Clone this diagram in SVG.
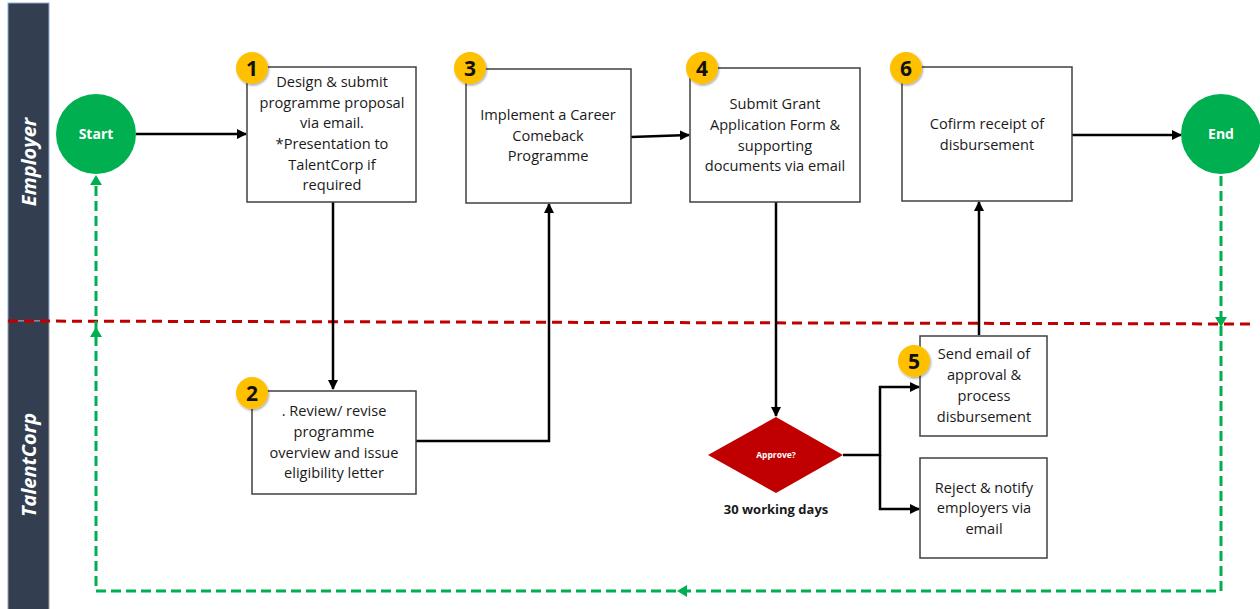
<svg xmlns="http://www.w3.org/2000/svg" width="1260" height="609" viewBox="0 0 1260 609">
<style>
.lane{fill:#333f50}
.lanelbl{fill:#fff;font-family:"Open Sans",sans-serif;font-weight:bold;font-style:italic;font-size:20px}
.box{fill:#fff;stroke:#404040;stroke-width:1.5}
.t{font-family:"Open Sans","Liberation Sans",sans-serif;font-size:14.6px;fill:#1a1a1a;text-anchor:middle}
.badge{fill:#ffc000}
.bn{font-family:"Open Sans",sans-serif;font-weight:bold;font-size:21px;fill:#111;text-anchor:middle}
.term{fill:#00b050}
.tt{font-family:"Open Sans",sans-serif;font-weight:bold;font-size:14px;fill:#fff;text-anchor:middle}
.c{fill:none;stroke:#000;stroke-width:2.5}
.g{fill:none;stroke:#00b050;stroke-width:3;stroke-dasharray:10 5}
.gh{fill:#00b050}
</style>
<defs>
<marker id="ah" viewBox="0 0 10 10" refX="9" refY="5" markerWidth="4" markerHeight="4" orient="auto" markerUnits="strokeWidth">
<path d="M0,0 L10,5 L0,10 z" fill="#000"/>
</marker>
<filter id="sh" x="-30%" y="-30%" width="160%" height="160%">
<feDropShadow dx="1" dy="1.5" stdDeviation="1.2" flood-color="#000" flood-opacity="0.35"/>
</filter>
</defs>
<rect width="1260" height="609" fill="#fff"/>

<g id="lane-employer">
<rect class="lane" x="8" y="3" width="41" height="318" stroke="#8eaadb" stroke-width="1"/>
<text class="lanelbl" transform="translate(36,162) rotate(-90)" text-anchor="middle">Employer</text>
</g>
<g id="lane-talentcorp">
<rect class="lane" x="8" y="321" width="41" height="290" stroke="#a0a0a0" stroke-width="1"/>
<text class="lanelbl" transform="translate(36,465) rotate(-90)" text-anchor="middle">TalentCorp</text>
</g>
<g id="lane-divider">
<line x1="8" y1="321" x2="1250" y2="324" stroke="#c00000" stroke-width="3" stroke-dasharray="10 6"/>
</g>

<g id="connectors">
<line class="c" x1="136" y1="134" x2="246" y2="134" marker-end="url(#ah)"/>
<line class="c" x1="333" y1="202" x2="333" y2="389" marker-end="url(#ah)"/>
<polyline class="c" points="416,441 549,441 549,204" marker-end="url(#ah)"/>
<line class="c" x1="631" y1="137" x2="689" y2="135" marker-end="url(#ah)"/>
<line class="c" x1="776" y1="202" x2="776" y2="416" marker-end="url(#ah)"/>
<polyline class="c" points="843,455 880,455 880,387 919,387" marker-end="url(#ah)"/>
<polyline class="c" points="880,455 880,509 919,509" marker-end="url(#ah)"/>
<line class="c" x1="979" y1="335" x2="979" y2="202" marker-end="url(#ah)"/>
<line class="c" x1="1072" y1="135" x2="1181" y2="135" marker-end="url(#ah)"/>
<polyline class="g" points="1221,176 1221,591 96,591 96,178"/>
<polygon class="gh" points="1215,317 1227,317 1221,327"/>
<polygon class="gh" points="687,585 687,597 677,591"/>
<polygon class="gh" points="90,337 102,337 96,327"/>
<polygon class="gh" points="90,185 102,185 96,175"/>
</g>

<g id="start">
<circle class="term" cx="96" cy="134" r="40"/>
<text class="tt" x="96" y="139">Start</text>
</g>
<g id="end">
<circle class="term" cx="1221" cy="134" r="40"/>
<text class="tt" x="1221" y="139">End</text>
</g>

<g id="step1">
<rect class="box" x="247" y="67" width="169" height="135"/>
<text class="t"><tspan x="332" y="87">Design &amp; submit</tspan><tspan x="332" y="108">programme proposal</tspan><tspan x="332" y="128">via email.</tspan><tspan x="332" y="149">*Presentation to</tspan><tspan x="332" y="170">TalentCorp if</tspan><tspan x="332" y="190">required</tspan></text>
<circle class="badge" cx="252" cy="68" r="16" filter="url(#sh)"/>
<text class="bn" x="252" y="76">1</text>
</g>

<g id="step2">
<rect class="box" x="252" y="391" width="164" height="103"/>
<text class="t"><tspan x="334" y="416">. Review/ revise</tspan><tspan x="334" y="437">programme</tspan><tspan x="334" y="458">overview and issue</tspan><tspan x="334" y="478">eligibility letter</tspan></text>
<circle class="badge" cx="252" cy="393" r="16" filter="url(#sh)"/>
<text class="bn" x="252" y="401">2</text>
</g>

<g id="step3">
<rect class="box" x="466" y="69" width="165" height="134"/>
<text class="t"><tspan x="548" y="120">Implement a Career</tspan><tspan x="548" y="141">Comeback</tspan><tspan x="548" y="161">Programme</tspan></text>
<circle class="badge" cx="470" cy="68" r="16" filter="url(#sh)"/>
<text class="bn" x="470" y="76">3</text>
</g>

<g id="step4">
<rect class="box" x="690" y="68" width="170" height="134"/>
<text class="t"><tspan x="775" y="109">Submit Grant</tspan><tspan x="775" y="130">Application Form &amp;</tspan><tspan x="775" y="151">supporting</tspan><tspan x="775" y="171">documents via email</tspan></text>
<circle class="badge" cx="702" cy="68" r="16" filter="url(#sh)"/>
<text class="bn" x="702" y="76">4</text>
</g>

<g id="decision">
<polygon points="776,417 843,455 776,493 708,455" fill="#c00000"/>
<text x="776" y="458" text-anchor="middle" font-family="Open Sans, sans-serif" font-weight="bold" font-size="8.5" fill="#fff">Approve?</text>
<text x="776" y="514" text-anchor="middle" font-family="Open Sans, sans-serif" font-weight="bold" font-size="13" fill="#1a1a1a">30 working days</text>
</g>

<g id="step5">
<rect class="box" x="920" y="336" width="127" height="100"/>
<text class="t"><tspan x="984" y="359">Send email of</tspan><tspan x="984" y="380">approval &amp;</tspan><tspan x="984" y="401">process</tspan><tspan x="984" y="422">disbursement</tspan></text>
<circle class="badge" cx="914" cy="361" r="16" filter="url(#sh)"/>
<text class="bn" x="914" y="369">5</text>
</g>

<g id="reject">
<rect class="box" x="920" y="458" width="127" height="100"/>
<text class="t"><tspan x="984" y="493">Reject &amp; notify</tspan><tspan x="984" y="513">employers via</tspan><tspan x="984" y="534">email</tspan></text>
</g>

<g id="step6">
<rect class="box" x="902" y="67" width="170" height="134"/>
<text class="t"><tspan x="987" y="129">Cofirm receipt of</tspan><tspan x="987" y="150">disbursement</tspan></text>
<circle class="badge" cx="906" cy="68" r="16" filter="url(#sh)"/>
<text class="bn" x="906" y="76">6</text>
</g>
</svg>
